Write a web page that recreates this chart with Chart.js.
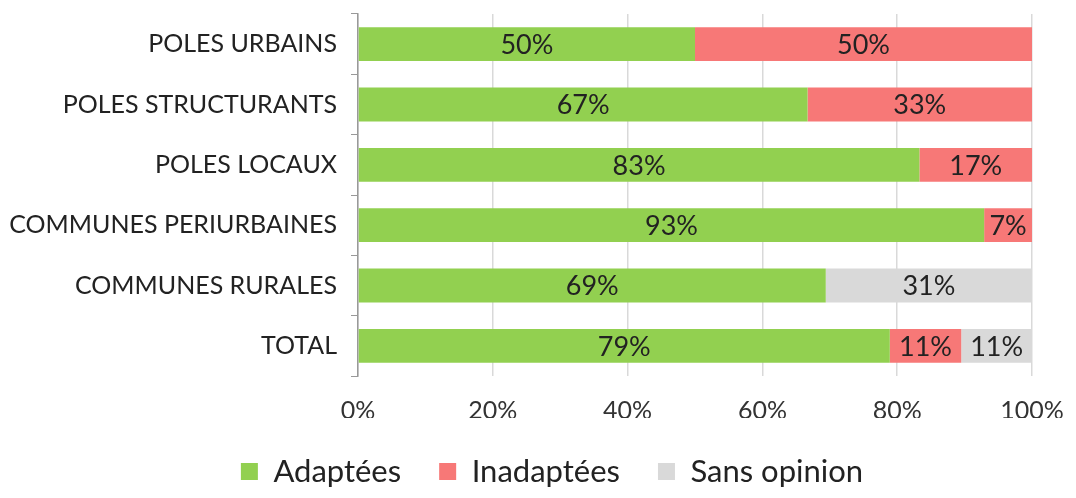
<!DOCTYPE html>
<html>
<head>
<meta charset="utf-8">
<script src="https://cdn.jsdelivr.net/npm/chart.js@4"></script>
<style>
  html, body { margin: 0; padding: 0; background: #fff; }
  #wrap { width: 1076px; height: 498px; }
</style>
</head>
<body>
<div id="wrap"><canvas id="chart"></canvas></div>
<script>
const categories = ['POLES URBAINS', 'POLES STRUCTURANTS', 'POLES LOCAUX', 'COMMUNES PERIURBAINES', 'COMMUNES RURALES', 'TOTAL'];
const adaptees = [50, 66.7, 83.3, 92.9, 69.4, 78.9];
const inadaptees = [50, 33.3, 16.7, 7.1, 0, 10.6];
const sansOpinion = [0, 0, 0, 0, 30.6, 10.5];
const xTicks = [0, 20, 40, 60, 80, 100];

const FONT = 'Lato, "Noto Sans", sans-serif';

// draws the percentage inside each bar segment
const barLabels = {
    id: 'barLabels',
    afterDatasetsDraw(chart) {
        const ctx = chart.ctx;
        ctx.save();
        ctx.font = '27px ' + FONT;
        ctx.fillStyle = '#222';
        ctx.textAlign = 'center';
        ctx.textBaseline = 'middle';
        chart.data.datasets.forEach((ds, i) => {
            const meta = chart.getDatasetMeta(i);
            meta.data.forEach((bar, j) => {
                const v = ds.data[j];
                if (!v) return;
                const { x, y, base } = bar.getProps(['x', 'y', 'base'], true);
                ctx.fillText(Math.round(v) + '%', (x + base) / 2, y + 1);
            });
        });
        ctx.restore();
    }
};

// fixed legend height, and legend moved a little right like the original
const legendPlace = {
    id: 'legendPlace',
    beforeInit(chart) {
        const fit = chart.legend.fit;
        chart.legend.fit = function () {
            fit.call(this);
            this.height = 80;
        };
    },
    afterLayout(chart) {
        chart.legend.left += 36;
        chart.legend.right += 36;
    }
};

new Chart(document.getElementById('chart'), {
    type: 'bar',
    data: {
        labels: categories,
        datasets: [
            { label: 'Adaptées', data: adaptees, backgroundColor: '#92D050' },
            { label: 'Inadaptées', data: inadaptees, backgroundColor: '#F77877' },
            { label: 'Sans opinion', data: sansOpinion, backgroundColor: '#D9D9D9' }
        ]
    },
    options: {
        indexAxis: 'y',
        responsive: true,
        maintainAspectRatio: false,
        animation: false,
        layout: { padding: { top: 14, right: 44, left: 0, bottom: 0 } },
        datasets: { bar: { categoryPercentage: 0.56, barPercentage: 1 } },
        plugins: {
            legend: {
                position: 'bottom',
                labels: {
                    color: '#222',
                    font: { family: FONT, size: 31 },
                    boxWidth: 17,
                    boxHeight: 17,
                    padding: 38
                }
            },
            tooltip: { enabled: false }
        },
        scales: {
            x: {
                stacked: true,
                min: 0,
                max: 100,
                afterBuildTicks: axis => { axis.ticks = xTicks.map(v => ({ value: v })); },
                afterFit: axis => { axis.height = 42; axis.paddingRight = 0; },
                ticks: {
                    color: '#333',
                    font: { family: FONT, size: 25 },
                    padding: 20,
                    callback: v => v + '%'
                },
                grid: { color: '#D9D9D9', lineWidth: 1.5, drawTicks: false },
                border: { display: false }
            },
            y: {
                stacked: true,
                afterFit: axis => {
                    axis.width = 358;
                    axis.paddingTop = 0;
                    axis.paddingBottom = 0;
                },
                ticks: {
                    color: '#222',
                    font: { family: FONT, size: 25 },
                    padding: 14
                },
                grid: {
                    offset: true,
                    drawOnChartArea: false,
                    drawTicks: true,
                    tickLength: 7,
                    color: '#999'
                },
                border: { display: true, color: '#999', width: 1.5 }
            }
        }
    },
    plugins: [barLabels, legendPlace]
});
</script>
</body>
</html>
